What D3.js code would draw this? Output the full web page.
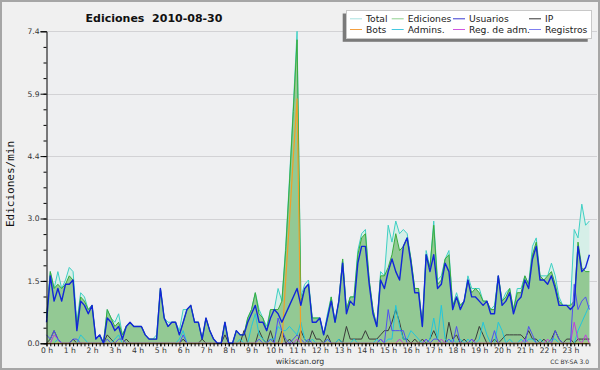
<!DOCTYPE html>
<html>
<head>
<meta charset="utf-8">
<script src="https://cdn.jsdelivr.net/npm/d3@7"></script>
<style>
  body { margin: 0; background: #f0f0f0; }
  svg { display: block; }
</style>
</head>
<body>
<svg id="chart"></svg>
<script>
// edits per minute, one value every 10 minutes (0:00 .. 23:50)
var total = [0.6,1.7,1.3,1.7,1.3,1.5,1.8,1.7,0.5,1.2,1.1,0.8,
  0.9,0.1,0.2,0,0.8,0.6,0.5,0.7,0.2,0.4,0.5,0.4,
  0.4,0.4,0.2,0.1,0.1,0.2,1.3,0.6,0.5,0.5,0.5,0.3,
  0.8,0.8,0.9,0.5,0.5,0.1,0.6,0.3,0.1,0,0,0.5,
  0,0,0.3,0.2,0.2,0.6,0.8,1.2,0.8,0.6,0.4,0.8,
  0.8,1.3,1.0,2.3,3.9,5.6,7.4,1.1,1.4,1.5,0.6,0.6,
  0.6,0.2,0.7,1.1,0.5,1.0,2.0,0.8,1.1,1.1,2.2,2.6,
  2.7,1.5,0.8,0.4,1.7,1.6,2.8,2.4,2.9,2.6,2.7,2.6,
  2.0,1.3,1.3,0.4,2.2,1.8,2.9,1.5,1.6,2.0,2.2,0.9,
  1.2,0.9,1.0,1.6,1.3,1.3,1.3,1.0,1.0,0.8,0.9,1.6,
  1.0,1.2,1.3,0.8,1.3,1.3,1.6,1.4,2.3,2.5,1.6,1.6,
  1.6,1.9,1.6,1.1,0.9,0.9,0.9,2.7,2.5,3.3,2.8,2.9];

var ediciones = [0.6,1.7,1.3,1.4,1.3,1.4,1.6,1.5,0.4,1.1,1.0,0.8,
  0.9,0.1,0.2,0,0.8,0.6,0.4,0.5,0.2,0.4,0.5,0.4,
  0.4,0.4,0.2,0.1,0.1,0.1,1.3,0.6,0.4,0.5,0.5,0.2,
  0.5,0.8,0.9,0.5,0.5,0.1,0.6,0.3,0.1,0,0,0.5,
  0,0,0.3,0.2,0.2,0.6,0.8,1.2,0.7,0.6,0.3,0.8,
  0.8,0.8,1.0,2.2,3.8,5.5,7.2,1.0,1.3,1.4,0.6,0.6,
  0.6,0.2,0.6,1.1,0.5,1.0,2.0,0.8,1.1,1.1,2.1,2.5,
  2.6,1.5,0.8,0.4,1.6,1.6,1.8,2.1,2.6,2.2,2.3,2.5,
  2.0,1.3,1.3,0.4,2.1,1.8,2.8,1.4,1.5,2.0,2.1,0.9,
  1.1,0.9,1.0,1.5,1.2,1.3,1.2,1.0,1.0,0.8,0.8,1.6,
  1.0,1.1,1.3,0.8,1.2,1.2,1.6,1.4,2.1,2.4,1.6,1.5,
  1.6,1.7,1.4,1.0,0.9,0.9,0.9,1.0,2.4,1.8,1.7,1.7];

var usuarios = [0.5,1.6,1.0,1.3,1.0,1.4,1.4,1.5,0.3,1.0,0.9,0.7,
  0.9,0.1,0.2,0,0.6,0.5,0.3,0.4,0.1,0.4,0.5,0.4,
  0.4,0.4,0.2,0.1,0.1,0.1,1.3,0.6,0.4,0.5,0.5,0.2,
  0.5,0.8,0.9,0.5,0.5,0.1,0.6,0.3,0.1,0,0,0.5,
  0,0,0.3,0.2,0.2,0.5,0.7,0.9,0.5,0.5,0.3,0.6,
  0.8,0.7,0.5,0.7,0.9,1.1,1.3,0.9,1.3,1.4,0.5,0.5,
  0.6,0.2,0.6,1.0,0.5,1.0,1.9,0.7,1.0,0.9,1.9,2.3,
  2.3,1.4,0.7,0.4,1.5,1.3,1.7,2.0,1.7,1.5,2.3,2.5,
  1.9,1.2,1.2,0.4,2.1,1.7,2.1,1.3,1.4,1.9,1.7,0.8,
  1.1,0.8,1.0,1.5,1.1,1.1,1.0,0.9,1.0,0.7,0.7,1.6,
  0.9,1.0,1.2,0.7,1.0,1.1,1.5,1.3,2.0,2.3,1.5,1.5,
  1.4,1.6,1.3,0.9,0.9,0.9,0.8,0.9,2.3,1.7,1.8,2.1];

var ip = [0,0.1,0.3,0.1,0,0,0,0.1,0,0,0,0,
  0,0,0,0,0.2,0.1,0,0,0,0.1,0,0,
  0,0,0,0,0,0,0,0,0,0,0,0,
  0.1,0,0,0,0,0.1,0,0,0,0,0,0.2,
  0,0,0,0,0.3,0,0,0,0.3,0.1,0,0.3,
  0,0,0.3,0,0.1,0,0,0.3,0.1,0,0.3,0.1,
  0.1,0,0.2,0,0,0.1,0,0.4,0.1,0.1,0.1,0.1,
  0.3,0.1,0.1,0.1,0.2,0.3,0.3,0.5,0.8,0.5,0.1,0.1,
  0,0.1,0,0.1,0,0.1,0.3,0.1,0,0,0.5,0.1,
  0.2,0,0.1,0,0,0.1,0.4,0.2,0,0,0.1,0,
  0.1,0.2,0.2,0.2,0.2,0.2,0.1,0.3,0.1,0.1,0,0.1,
  0,0.1,0.3,0.1,0,0.1,0.1,0,0.1,0.1,0.1,0.1];

var bots = [0,0,0,0,0,0,0,0,0,0,0,0,
  0,0,0,0,0,0,0,0,0,0,0,0,
  0,0,0,0,0,0,0,0,0,0,0,0,
  0,0,0,0,0,0,0,0,0,0,0,0,
  0,0,0,0,0,0,0,0,0,0,0,0,
  0,0,0,1.5,2.9,4.4,5.8,0,0,0,0,0,
  0,0,0,0,0,0,0,0,0,0,0,0,
  0,0,0,0,0,0,0,0,0,0,0,0,
  0,0,0,0,0,0,0,0,0,0,0,0,
  0,0,0,0,0,0,0,0,0,0,0,0,
  0,0,0,0,0,0,0,0,0,0,0,0,
  0,0,0,0,0,0,0,0,0,0,0,0];

var admins = [0,0,0,0.1,0,0,0,0,0,0.2,0.1,0,
  0,0,0,0,0,0,0.1,0.2,0,0,0,0,
  0,0,0,0,0,0,0,0,0,0,0,0.1,
  0.3,0,0,0,0,0,0,0,0,0,0,0,
  0,0,0,0.1,0,0,0.4,0.7,0.2,0.1,0,0.1,
  0.1,0.4,0.3,0.3,0.4,0.3,0.2,0.5,0.1,0,0.1,0,
  0,0,0.1,0,0,0.1,0,0,0,0.1,0,0,
  0,0,0,0.1,0,0,0.1,0.1,0.9,0.4,0.1,0.1,
  0.3,0.2,0.1,0,0,0.1,0.6,0.1,0.9,0.1,0,0.1,
  0,0.1,0,0.1,0,0,0.1,0.5,0.2,0,0,0.5,
  0.3,0,0.1,0,0,0.1,0,0.1,0.1,0,0.1,0,
  0,0.1,0.1,0,0,0,0,0,0.3,0.5,0.7,0.9];

var regAdm = [0,0,0.2,0.1,0,0,0,0,0,0,0,0,
  0,0,0,0,0,0,0,0,0,0,0,0,
  0,0,0,0,0,0,0,0,0,0,0,0,
  0,0,0,0,0,0,0,0,0,0,0,0,
  0,0,0,0,0,0,0,0,0,0,0,0,
  0,0,0,0,0,0,0.1,0,0,0,0,0,
  0,0,0,0,0,0,0,0,0,0,0,0,
  0,0,0,0,0.1,0,0,0,0,0.1,0,0,
  0,0,0,0,0.1,0,0,0,0.1,0,0,0,
  0,0,0,0,0.1,0,0,0,0,0,0,0,
  0,0,0,0,0,0,0.1,0,0,0,0,0,
  0.1,0,0,0,0,0,0,0.5,0.1,0,0.2,0];

var registros = [0.2,0.1,0.3,0.1,0,0,0,0.1,0.1,0,0,0,
  0,0,0,0,0.1,0,0,0.1,0.1,0,0,0,
  0,0,0,0,0,0,0,0,0,0,0,0,
  0.2,0,0,0,0,0,0,0,0,0,0,0,
  0,0,0,0,0,0,0,0,0.1,0,0,0.1,
  0,0.6,0.3,0.1,0,0.1,0.2,0.1,0,0.1,0,0,
  0,0,0.1,0,0,0,0,0,0,0,0,0,
  0,0,0,0,0.1,0,0.8,0.3,0.3,0.3,0.3,0,
  0,0,0,0,0.1,0,0.1,0.1,0,0,0.1,0,
  0.4,0,0,0,0.1,0,0,0,0,0,0.3,0,
  0,0,0,0,0,0,0,0.4,0.2,0,0,0,
  0,0,0.3,0.1,0,0,0,1.4,0.8,1.0,1.1,0.8];

var hourLabels = ["0 h","1 h","2 h","3 h","4 h","5 h","6 h","7 h","8 h","9 h","10 h","11 h",
  "12 h","13 h","14 h","15 h","16 h","17 h","18 h","19 h","20 h","21 h","22 h","23 h"];
var yTicks = [0, 1.48, 2.96, 4.44, 5.92, 7.4];

var legendItems = [
  {name: "Total", color: "#a9e2e0"},
  {name: "Ediciones", color: "#8fd08f"},
  {name: "Usuarios", color: "#3a3ad0"},
  {name: "IP", color: "#333333"},
  {name: "Bots", color: "#f4a040"},
  {name: "Admins.", color: "#44c8e0"},
  {name: "Reg. de adm.", color: "#d055e0"},
  {name: "Registros", color: "#7f7ff0"}
];

var width = 600, height = 370;

var svg = d3.select("#chart")
    .attr("width", width)
    .attr("height", height);

var x = d3.scaleLinear().domain([0, 24]).range([46.5, 593.2]);
var y = d3.scaleLinear().domain([0, 7.4]).range([343.3, 31.3]);

function px(d, i) { return x(i / 6); }

// background + plot area
svg.append("rect")
    .attr("width", width).attr("height", height)
    .attr("fill", "#f0f0f0");
svg.append("rect")
    .attr("x", x(0)).attr("y", y(7.4))
    .attr("width", 597 - x(0)).attr("height", y(0) - y(7.4))
    .attr("fill", "#eeeff1");

// grid
svg.append("g").selectAll("line")
    .data(yTicks.slice(1))
    .enter().append("line")
    .attr("x1", x(0)).attr("x2", 597)
    .attr("y1", function(d) { return Math.round(y(d)) + 0.5; })
    .attr("y2", function(d) { return Math.round(y(d)) + 0.5; })
    .attr("stroke", "#d2d2d5")
    .attr("stroke-width", 1);

var area = d3.area().x(px).y0(y(0)).y1(function(d) { return y(d); });
var line = d3.line().x(px).y(function(d) { return y(d); });

var g = svg.append("g");

g.append("path").datum(total)
    .attr("d", area)
    .attr("fill", "#d6efe8");
g.append("path").datum(ediciones)
    .attr("d", area)
    .attr("fill", "#93c994");

var series = [
  {data: total, color: "#3ed0c4", w: 1},
  {data: ediciones, color: "#3aab3a", w: 1},
  {data: ip, color: "#3a3a3a", w: 1},
  {data: admins, color: "#22c6dc", w: 1},
  {data: regAdm, color: "#c23ce0", w: 1},
  {data: registros, color: "#5050f0", w: 1},
  {data: bots, color: "#f0a028", w: 1.2},
  {data: usuarios, color: "#1226d8", w: 1.4}
];

series.forEach(function(s) {
  g.append("path").datum(s.data)
      .attr("d", line)
      .attr("fill", "none")
      .attr("stroke", s.color)
      .attr("stroke-width", s.w)
      .attr("stroke-linejoin", "round");
});

// y axis
var yAxis = svg.append("g")
    .attr("transform", "translate(" + x(0) + ",0)")
    .call(d3.axisLeft(y).tickValues(yTicks).tickSize(6).tickPadding(1)
      .tickFormat(d3.format(".1f")));
svg.append("g")
    .attr("transform", "translate(" + x(0) + ",0)")
    .call(d3.axisLeft(y).tickValues(d3.range(0, 20).map(function(k) { return k * 0.37; }))
      .tickSize(3).tickFormat(""))
    .select(".domain").remove();

// x axis
var xAxis = svg.append("g")
    .attr("transform", "translate(0," + y(0) + ")")
    .call(d3.axisBottom(x).tickValues(d3.range(0, 24)).tickSize(3).tickPadding(1)
      .tickFormat(function(d) { return hourLabels[d]; }));
svg.append("g")
    .attr("transform", "translate(0," + y(0) + ")")
    .call(d3.axisBottom(x).tickValues(d3.range(0, 144).map(function(k) { return k / 6; }))
      .tickSize(3).tickFormat(""))
    .select(".domain").remove();
xAxis.select(".domain").attr("d", "M" + x(0) + ",0.5H" + x(23 + 5 / 6));

svg.selectAll(".tick line").attr("stroke", "#000");
svg.selectAll(".domain").attr("stroke", "#000");
svg.selectAll(".tick text")
    .attr("fill", "#333")
    .style("font-family", "DejaVu Sans")
    .style("font-size", "7.6px");

// titles
svg.append("text")
    .attr("x", 154).attr("y", 22)
    .attr("text-anchor", "middle")
    .style("white-space", "pre")
    .style("font-family", "DejaVu Sans")
    .style("font-weight", "bold")
    .style("font-size", "11px")
    .attr("fill", "#111")
    .text("Ediciones  2010-08-30");

svg.append("text")
    .attr("transform", "translate(14,184) rotate(-90)")
    .attr("text-anchor", "middle")
    .style("font-family", "DejaVu Sans Mono")
    .style("font-size", "11px")
    .attr("fill", "#111")
    .text("Ediciones/min");

svg.append("text")
    .attr("x", 300).attr("y", 364)
    .attr("text-anchor", "middle")
    .style("font-family", "DejaVu Sans")
    .style("font-size", "7.8px")
    .attr("fill", "#333")
    .text("wikiscan.org");

svg.append("text")
    .attr("x", 589).attr("y", 364)
    .attr("text-anchor", "end")
    .style("font-family", "DejaVu Sans")
    .style("font-size", "6px")
    .attr("fill", "#333")
    .text("CC BY-SA 3.0");

// legend
var lg = svg.append("g");
lg.append("rect")
    .attr("x", 342.7).attr("y", 13.5).attr("width", 245).attr("height", 28.3)
    .attr("fill", "#7a7a7a");
lg.append("rect")
    .attr("x", 346.5).attr("y", 10.5).attr("width", 245).attr("height", 28)
    .attr("fill", "#fff").attr("stroke", "#c8c8c8");

var colX = [350, 391.7, 453, 529];
var rowY = [18.3, 29];
var item = lg.selectAll("g.item")
    .data(legendItems)
    .enter().append("g")
    .attr("class", "item")
    .attr("transform", function(d, i) {
      return "translate(" + colX[i % 4] + "," + rowY[Math.floor(i / 4)] + ")";
    });
item.append("line")
    .attr("x1", 0).attr("x2", 12)
    .attr("y1", 0.5).attr("y2", 0.5)
    .attr("stroke", function(d) { return d.color; });
item.append("text")
    .attr("x", 16).attr("y", 3.5)
    .style("font-family", "DejaVu Sans")
    .style("font-size", "9.2px")
    .attr("fill", "#222")
    .text(function(d) { return d.name; });

// outer frame
svg.append("rect")
    .attr("x", 1).attr("y", 1).attr("width", width - 2).attr("height", height - 2)
    .attr("fill", "none").attr("stroke", "#a6a6a6").attr("stroke-width", 2);
</script>
</body>
</html>
